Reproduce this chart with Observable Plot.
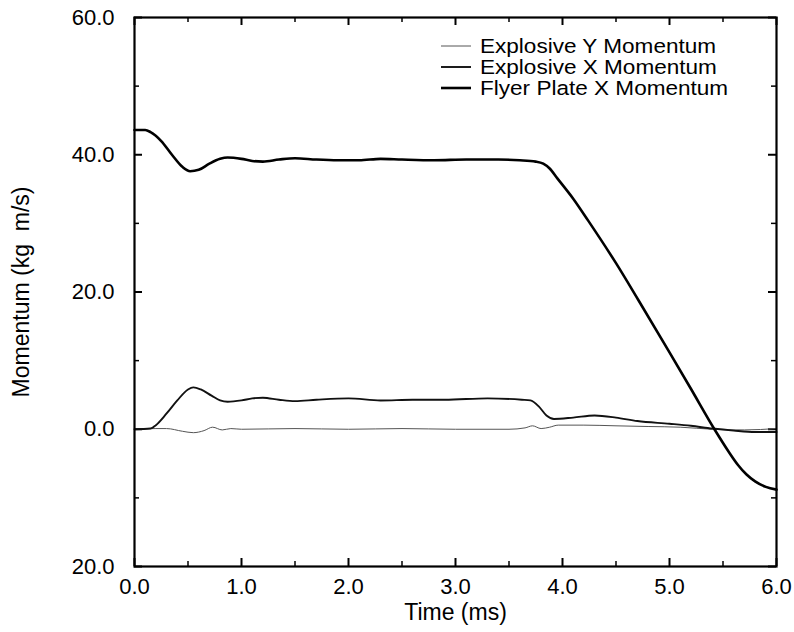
<!DOCTYPE html>
<html>
<head>
<meta charset="utf-8">
<script src="https://cdn.jsdelivr.net/npm/d3@7"></script>
<script src="https://cdn.jsdelivr.net/npm/@observablehq/plot@0.6"></script>
<style>
  html, body { margin: 0; padding: 0; background: white; }
  #wrap { position: relative; width: 794px; height: 632px; font-family: "Liberation Sans", Arial, sans-serif; }
  #legend { position: absolute; left: 441px; top: 35px; font-size: 20.5px; color: black; }
  #legend .row { display: flex; align-items: center; height: 21px; white-space: nowrap; }
  #legend .sw { width: 30px; margin-right: 9px; flex: none; }
  #legend .lab { display: inline-block; height: 21px; line-height: 21px; overflow: visible;
                 transform: scaleX(1.1); transform-origin: left center; }
</style>
</head>
<body>
<div id="wrap"></div>
<script>
// ---- data ----
const seriesNames = ["Explosive Y Momentum", "Explosive X Momentum", "Flyer Plate X Momentum"];

const flyerT = [0, 0.1, 0.15, 0.25, 0.35, 0.45, 0.52, 0.6, 0.7, 0.8, 0.87, 1.0, 1.1, 1.2, 1.35, 1.5, 1.7, 1.9, 2.1, 2.3, 2.5, 2.8, 3.1, 3.4, 3.6, 3.75, 3.82, 3.88, 3.95, 4.1, 4.24, 4.5, 4.71, 5.0, 5.2, 5.42, 5.55, 5.64, 5.72, 5.8, 5.9, 6.0];
const flyerV = [43.6, 43.6, 43.3, 42.0, 40.0, 38.2, 37.6, 37.8, 38.7, 39.4, 39.6, 39.4, 39.1, 39.0, 39.3, 39.5, 39.3, 39.2, 39.2, 39.4, 39.3, 39.2, 39.3, 39.3, 39.2, 39.0, 38.7, 38.0, 36.6, 33.6, 30.4, 24.2, 18.8, 11.2, 5.9, 0.0, -3.2, -5.2, -6.6, -7.6, -8.4, -8.8];

const explXT = [0, 0.15, 0.2, 0.3, 0.4, 0.5, 0.55, 0.62, 0.72, 0.8, 0.87, 1.0, 1.1, 1.2, 1.35, 1.5, 1.7, 2.0, 2.3, 2.6, 2.9, 3.3, 3.62, 3.7, 3.78, 3.85, 3.92, 4.1, 4.3, 4.5, 4.7, 5.0, 5.2, 5.4, 5.6, 5.8, 6.0];
const explXV = [0, 0.1, 0.6, 2.3, 4.2, 5.8, 6.1, 5.8, 4.9, 4.2, 4.0, 4.2, 4.5, 4.6, 4.3, 4.1, 4.3, 4.5, 4.2, 4.3, 4.3, 4.5, 4.3, 4.2, 3.3, 2.0, 1.5, 1.7, 2.0, 1.7, 1.2, 0.8, 0.5, 0.1, -0.2, -0.4, -0.4];

const explYT = [0, 0.2, 0.3, 0.45, 0.55, 0.65, 0.73, 0.82, 0.9, 1.0, 1.5, 2.0, 2.5, 3.0, 3.5, 3.65, 3.72, 3.8, 3.88, 3.96, 4.2, 4.5, 4.8, 5.1, 5.4, 5.7, 6.0];
const explYV = [0, 0.1, 0.1, -0.3, -0.5, -0.2, 0.3, -0.1, 0.1, 0.0, 0.1, 0.0, 0.1, 0.0, 0.0, 0.2, 0.5, 0.1, 0.3, 0.6, 0.6, 0.5, 0.4, 0.3, 0.0, -0.1, 0.1];

const xMajor = [0, 1, 2, 3, 4, 5, 6];
const xMinor = [0.5, 1.5, 2.5, 3.5, 4.5, 5.5];
const xTickLabels = ["0.0", "1.0", "2.0", "3.0", "4.0", "5.0", "6.0"];
const yMajor = [60, 40, 20, 0, -20];
const yMinor = [50, 30, 10, -10];
const yTickLabels = ["60.0", "40.0", "20.0", "0.0", "20.0"];
const xTitle = "Time (ms)";
const yTitle = "Momentum (kg\u00a0 m/s)";

// ---- build tables ----
const flyer = flyerT.map((t, i) => ({t, v: flyerV[i]}));
const explX = explXT.map((t, i) => ({t, v: explXV[i]}));
const explY = explYT.map((t, i) => ({t, v: explYV[i]}));

const styles = [
  {stroke: "#555", strokeWidth: 1},
  {stroke: "#111", strokeWidth: 1.9},
  {stroke: "#000", strokeWidth: 2.6}
];

const W = 794, H = 632;
const M = {top: 17, right: 18, bottom: 66, left: 134};
const innerW = W - M.left - M.right;
const innerH = H - M.top - M.bottom;
const font = "'Liberation Sans', Arial, sans-serif";

const chart = Plot.plot({
  width: W, height: H,
  marginTop: M.top, marginRight: M.right, marginBottom: M.bottom, marginLeft: M.left,
  style: {fontFamily: font, background: "white", color: "black", overflow: "visible"},
  x: {domain: [0, 6]},
  y: {domain: [-20, 60]},
  marks: [
    Plot.axisX(xMajor, {anchor: "bottom", tickSize: 0, tickPadding: 12, fontSize: 22, label: null,
      tickFormat: d => xTickLabels[xMajor.indexOf(d)]}),
    Plot.axisY(yMajor, {anchor: "left", tickSize: 0, tickPadding: 20, fontSize: 22, label: null,
      tickFormat: d => yTickLabels[yMajor.indexOf(d)]}),
    // inward ticks (bottom, top)
    Plot.tickX(xMajor, {x: d => d, insetTop: innerH - 8, strokeWidth: 2}),
    Plot.tickX(xMinor, {x: d => d, insetTop: innerH - 5, strokeWidth: 1.5}),
    Plot.tickX(xMajor, {x: d => d, insetBottom: innerH - 8, strokeWidth: 2}),
    Plot.tickX(xMinor, {x: d => d, insetBottom: innerH - 5, strokeWidth: 1.5}),
    // inward ticks (left, right)
    Plot.tickY(yMajor, {y: d => d, insetRight: innerW - 8, strokeWidth: 2}),
    Plot.tickY(yMinor, {y: d => d, insetRight: innerW - 5, strokeWidth: 1.5}),
    Plot.tickY(yMajor, {y: d => d, insetLeft: innerW - 8, strokeWidth: 2}),
    Plot.tickY(yMinor, {y: d => d, insetLeft: innerW - 5, strokeWidth: 1.5}),
    Plot.line(explY, {x: "t", y: "v", curve: "monotone-x", ...styles[0]}),
    Plot.line(explX, {x: "t", y: "v", curve: "monotone-x", ...styles[1]}),
    Plot.line(flyer, {x: "t", y: "v", curve: "monotone-x", ...styles[2]}),
    Plot.frame({stroke: "black", strokeWidth: 2.2}),
    Plot.text([xTitle], {frameAnchor: "bottom", dy: 53, lineAnchor: "bottom", textAnchor: "middle", fontSize: 23}),
    Plot.text([yTitle], {frameAnchor: "left", dx: -106, rotate: -90, lineAnchor: "bottom", textAnchor: "middle", fontSize: 23})
  ]
});

const wrap = document.getElementById("wrap");
wrap.appendChild(chart);

// legend overlay
const legend = document.createElement("div");
legend.id = "legend";
seriesNames.forEach((name, i) => {
  const row = document.createElement("div");
  row.className = "row";
  const sw = document.createElementNS("http://www.w3.org/2000/svg", "svg");
  sw.setAttribute("class", "sw");
  sw.setAttribute("width", 30);
  sw.setAttribute("height", 6);
  const ln = document.createElementNS("http://www.w3.org/2000/svg", "line");
  ln.setAttribute("x1", 0); ln.setAttribute("x2", 30);
  ln.setAttribute("y1", 3); ln.setAttribute("y2", 3);
  ln.setAttribute("stroke", styles[i].stroke);
  ln.setAttribute("stroke-width", styles[i].strokeWidth);
  sw.appendChild(ln);
  const lab = document.createElement("span");
  lab.className = "lab";
  lab.textContent = name;
  row.appendChild(sw);
  row.appendChild(lab);
  legend.appendChild(row);
});
wrap.appendChild(legend);
</script>
</body>
</html>
